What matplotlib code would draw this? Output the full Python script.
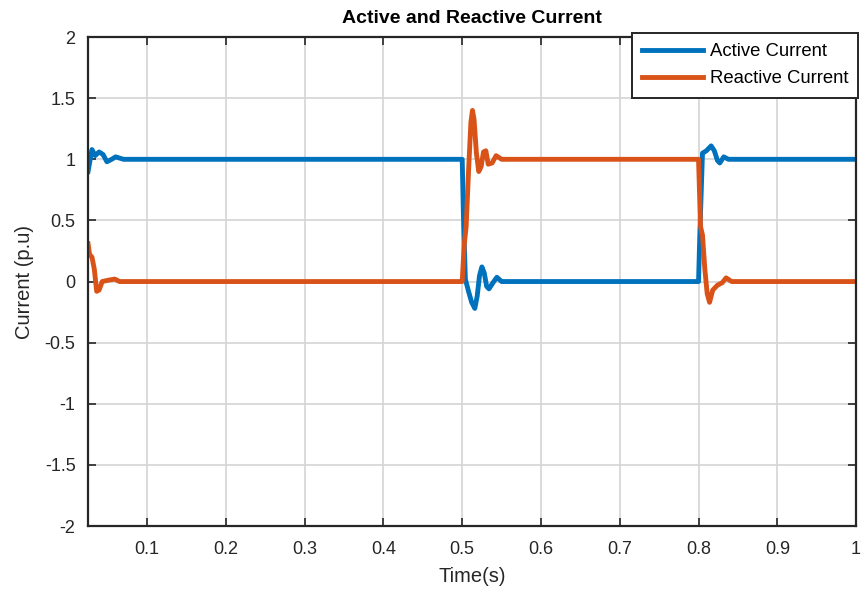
import numpy as np
import matplotlib.pyplot as plt

plt.rcParams['font.family'] = ['Liberation Sans', 'DejaVu Sans']

# key points (time in s, current in p.u.)
t_active = [0.025, 0.030, 0.034, 0.039, 0.044, 0.049, 0.055, 0.060, 0.070,
            0.500, 0.5015, 0.504, 0.508, 0.512, 0.516, 0.519, 0.522, 0.525,
            0.528, 0.531, 0.534, 0.539, 0.544, 0.550, 0.560,
            0.800, 0.8015, 0.805, 0.810, 0.816, 0.820, 0.824, 0.827, 0.832,
            0.838, 1.0]
i_active = [0.90, 1.08, 1.03, 1.06, 1.04, 0.98, 1.00, 1.02, 1.00,
            1.00, 0.55, 0.02, -0.08, -0.17, -0.22, -0.12, 0.05, 0.12,
            0.07, -0.04, -0.06, -0.01, 0.035, 0.00, 0.00,
            0.00, 0.36, 1.05, 1.07, 1.11, 1.07, 0.99, 0.97, 1.02,
            1.00, 1.00]

t_reactive = [0.025, 0.027, 0.030, 0.033, 0.036, 0.039, 0.043, 0.050, 0.059,
              0.065, 0.070,
              0.500, 0.5025, 0.505, 0.508, 0.511, 0.513, 0.515, 0.518, 0.521,
              0.524, 0.527, 0.530, 0.533, 0.538, 0.543, 0.550, 0.560,
              0.800, 0.8025, 0.805, 0.808, 0.811, 0.814, 0.818, 0.824, 0.830,
              0.835, 0.842, 1.0]
i_reactive = [0.31, 0.22, 0.20, 0.10, -0.08, -0.07, 0.00, 0.01, 0.02,
              0.00, 0.00,
              0.00, 0.30, 0.45, 0.90, 1.30, 1.40, 1.33, 1.05, 0.90,
              0.94, 1.06, 1.07, 0.96, 0.97, 1.03, 1.00, 1.00,
              1.00, 0.45, 0.38, 0.10, -0.10, -0.17, -0.07, -0.03, -0.01,
              0.03, 0.00, 0.00]

xticks = [0.1, 0.2, 0.3, 0.4, 0.5, 0.6, 0.7, 0.8, 0.9, 1.0]
xticklabels = ['0.1', '0.2', '0.3', '0.4', '0.5', '0.6', '0.7', '0.8', '0.9', '1']
yticks = [-2, -1.5, -1, -0.5, 0, 0.5, 1, 1.5, 2]
yticklabels = ['-2', '-1.5', '-1', '-0.5', '0', '0.5', '1', '1.5', '2']

fig = plt.figure(figsize=(8.63, 5.98), dpi=100)
ax = fig.add_axes([0.102, 0.1204, 0.890, 0.8176])

ax.plot(t_active, i_active, color='#0072BD', lw=3.5, label='Active Current')
ax.plot(t_reactive, i_reactive, color='#D95319', lw=3.5, label='Reactive Current')

ax.set_xlim(0.025, 1.0)
ax.set_ylim(-2, 2)
ax.set_xticks(xticks)
ax.set_xticklabels(xticklabels)
ax.set_yticks(yticks)
ax.set_yticklabels(yticklabels)
ax.tick_params(direction='in', length=6, width=1.2, colors='#262626',
               labelsize=13, top=True, right=True)
ax.tick_params(axis='x', pad=11)
ax.tick_params(axis='y', pad=9)
ax.grid(True, color='#d4d4d4', lw=1.2)
ax.set_axisbelow(True)
for s in ax.spines.values():
    s.set_color('#262626')
    s.set_linewidth(1.6)

ax.set_xlabel('Time(s)', fontsize=14.5, color='#262626', labelpad=6)
ax.set_ylabel('Current (p.u)', fontsize=14.5, color='#262626', labelpad=8)
ax.set_title('Active and Reactive Current', fontsize=14, fontweight='bold', pad=10)

leg = ax.legend(loc='upper right', fontsize=13.3, frameon=True, fancybox=False,
                bbox_to_anchor=(1.003, 1.008), borderaxespad=0.0,
                handlelength=3.3, labelspacing=0.55,
                handletextpad=0.35, borderpad=0.55)
leg.get_frame().set_edgecolor('#262626')
leg.get_frame().set_linewidth(1.4)
leg.get_frame().set_alpha(1)

fig.savefig('out.png', dpi=100)
